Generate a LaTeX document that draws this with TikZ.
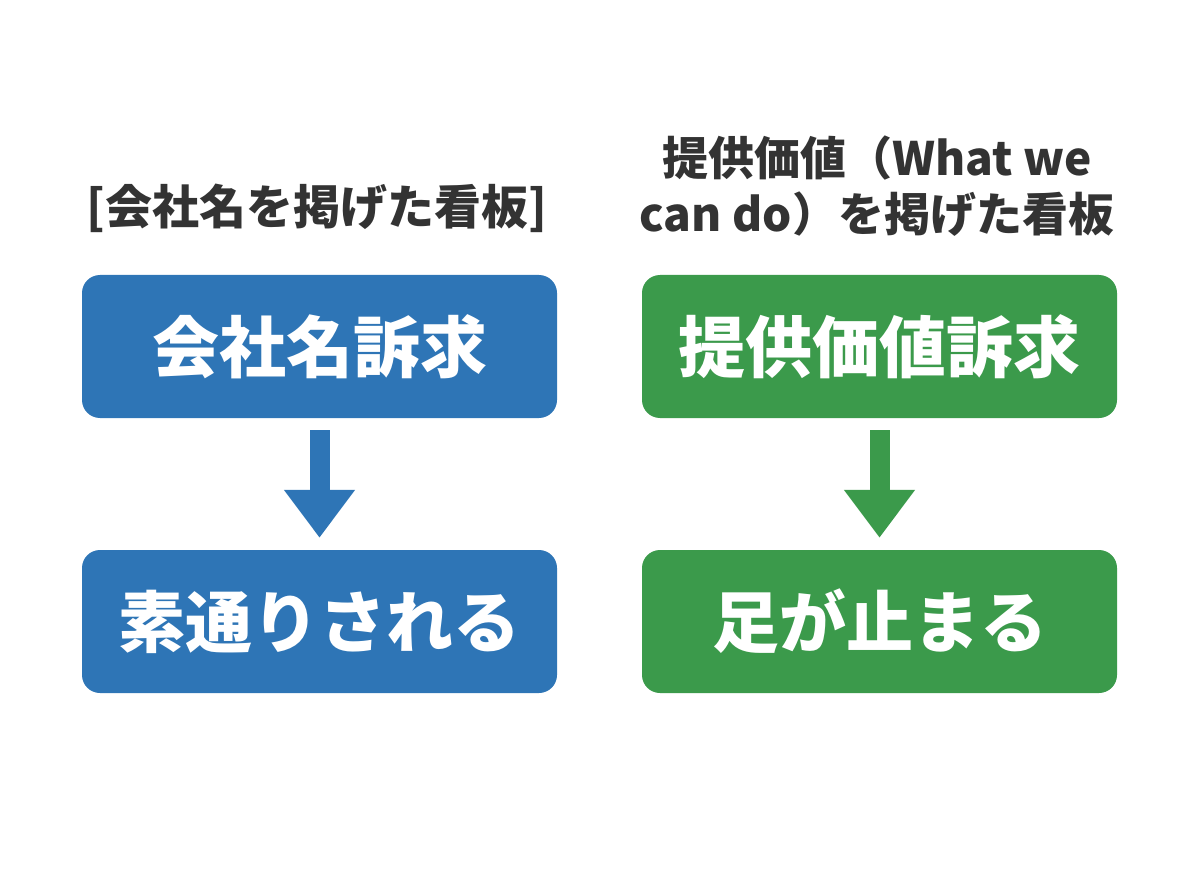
\documentclass[tikz,border=0pt]{standalone}
\usepackage{fontspec}
\setmainfont{Noto Sans CJK JP}
\usetikzlibrary{arrows.meta}
\definecolor{bluebox}{HTML}{2E75B6}
\definecolor{greenbox}{HTML}{3B9A4B}
\definecolor{titlegray}{HTML}{333333}
\tikzset{
  box/.style={rounded corners=18pt, minimum width=475pt, minimum height=143pt, inner sep=0pt, text=white, font=\fontsize{67}{70}\selectfont\bfseries},
  title/.style={text=titlegray, align=center, font=\fontsize{46}{56}\selectfont\bfseries},
  downarrow/.style={line width=20pt, -{Triangle[width=68pt,length=48pt]}, shorten <=12pt, shorten >=12pt}
}
\begin{document}
\begin{tikzpicture}[x=1pt,y=-1pt]
\useasboundingbox (0,0) rectangle (1200,896);
\node[title, font=\fontsize{47}{56}\selectfont\bfseries] (t1) at (317,208) {[会社名を掲げた看板]};
\node[title] (t2) at (877,186) {提供価値（What we\\can do）を掲げた看板};
\node[box, fill=bluebox] (a1) at (319.5,346.5) {会社名訴求};
\node[box, fill=bluebox] (a2) at (319.5,621.5) {素通りされる};
\node[box, fill=greenbox] (b1) at (879.5,346.5) {提供価値訴求};
\node[box, fill=greenbox] (b2) at (879.5,621.5) {足が止まる};
\draw[downarrow, bluebox] (a1.south) -- (a2.north);
\draw[downarrow, greenbox] (b1.south) -- (b2.north);
\end{tikzpicture}
\end{document}
